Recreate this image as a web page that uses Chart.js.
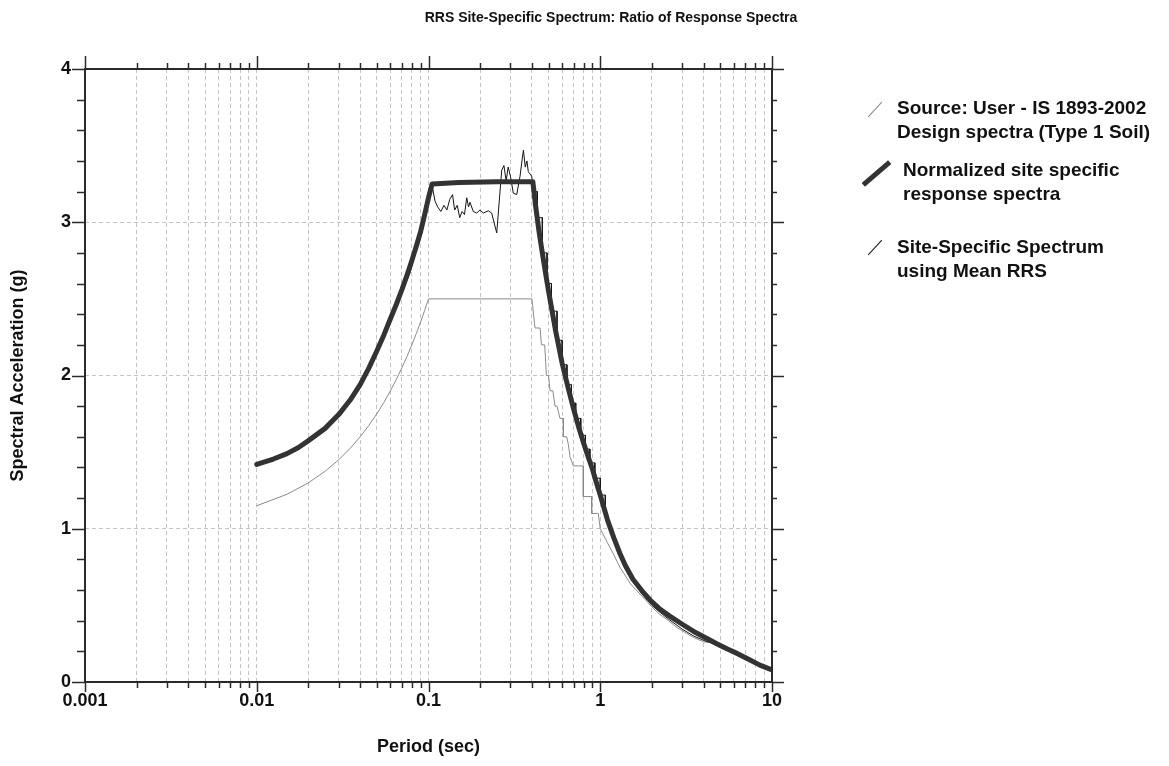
<!DOCTYPE html>
<html>
<head>
<meta charset="utf-8">
<title>RRS Site-Specific Spectrum</title>
<script src="https://cdn.jsdelivr.net/npm/chart.js@4.4.1/dist/chart.umd.min.js"></script>
<style>
  body { margin: 0; background: #fff; }
  #wrap { position: relative; width: 1169px; height: 766px; font-family: "Liberation Sans", Arial, sans-serif; color: #111; }
  #chartTitle { position: absolute; top: 9px; left: 611px; transform: translateX(-50%); font-weight: bold; font-size: 14px; white-space: nowrap; }
  .leg { position: absolute; font-weight: bold; font-size: 19px; line-height: 24px; white-space: nowrap; }
  .sym { position: absolute; }
</style>
</head>
<body>
<div id="wrap">
  <canvas id="rrsChart" width="1169" height="766"></canvas>
  <div id="chartTitle">RRS Site-Specific Spectrum: Ratio of Response Spectra</div>
</div>
<script>
// Design spectrum (IS 1893-2002, type 1 soil) - period (sec) / Sa (g)
var designT  = [0.01, 0.015, 0.02, 0.025, 0.03, 0.035, 0.04, 0.045, 0.05, 0.055, 0.06, 0.065, 0.07, 0.075, 0.08, 0.085, 0.09, 0.095, 0.10, 0.40, 0.417, 0.446, 0.455, 0.475, 0.486, 0.50, 0.51, 0.53, 0.545, 0.56, 0.583, 0.61, 0.61, 0.638, 0.652, 0.667, 0.697, 0.797, 0.797, 0.891, 0.891, 0.974, 1.0, 1.1, 1.2, 1.3, 1.5, 1.75, 2.0, 2.2, 2.5, 2.8, 3.0, 3.5, 4.0, 4.3, 5.0, 6.0, 7.45, 8.5, 10];
var designSa = [1.15, 1.225, 1.30, 1.375, 1.45, 1.525, 1.60, 1.675, 1.75, 1.825, 1.90, 1.975, 2.05, 2.125, 2.20, 2.275, 2.35, 2.425, 2.50, 2.50, 2.31, 2.31, 2.20, 2.20, 2.00, 2.00, 1.90, 1.90, 1.80, 1.80, 1.72, 1.72, 1.60, 1.60, 1.55, 1.47, 1.41, 1.41, 1.21, 1.21, 1.10, 1.10, 1.00, 0.91, 0.83, 0.75, 0.64, 0.56, 0.49, 0.445, 0.40, 0.355, 0.335, 0.29, 0.262, 0.26, 0.225, 0.188, 0.144, 0.11, 0.078];

// Site-specific spectrum using mean RRS
var rrsT  = [0.01, 0.015, 0.02, 0.025, 0.03, 0.035, 0.04, 0.045, 0.05, 0.055, 0.06, 0.065, 0.07, 0.078, 0.085, 0.09, 0.095, 0.10, 0.105, 0.109, 0.113, 0.118, 0.123, 0.128, 0.133, 0.138, 0.142, 0.147, 0.152, 0.157, 0.162, 0.167, 0.171, 0.1744, 0.1823, 0.1909, 0.1995, 0.2085, 0.2229, 0.2333, 0.2496, 0.2669, 0.275, 0.283, 0.291, 0.300, 0.3117, 0.3263, 0.3411, 0.350, 0.357, 0.366, 0.374, 0.3812, 0.399, 0.41, 0.43, 0.43, 0.46, 0.46, 0.49, 0.49, 0.52, 0.52, 0.56, 0.56, 0.60, 0.60, 0.64, 0.64, 0.68, 0.68, 0.72, 0.72, 0.77, 0.77, 0.82, 0.82, 0.87, 0.87, 0.93, 0.93, 1.0, 1.0, 1.07, 1.07, 1.15, 1.3, 1.4, 1.55, 1.75, 2.0, 2.2, 2.5, 3.0, 3.5, 4.17, 4.77, 5.5, 6.3, 7.45, 8.5, 10];
var rrsSa = [1.41, 1.48, 1.565, 1.645, 1.735, 1.83, 1.93, 2.04, 2.15, 2.25, 2.35, 2.45, 2.54, 2.67, 2.82, 2.93, 3.03, 3.15, 3.24, 3.14, 3.10, 3.07, 3.11, 3.08, 3.15, 3.18, 3.08, 3.11, 3.03, 3.07, 3.05, 3.16, 3.10, 3.13, 3.07, 3.06, 3.08, 3.06, 3.075, 3.06, 2.93, 3.34, 3.37, 3.27, 3.36, 3.30, 3.19, 3.18, 3.30, 3.40, 3.47, 3.36, 3.40, 3.33, 3.30, 3.20, 3.20, 3.03, 3.03, 2.80, 2.80, 2.60, 2.60, 2.42, 2.42, 2.23, 2.23, 2.07, 2.07, 1.94, 1.94, 1.82, 1.82, 1.72, 1.72, 1.61, 1.61, 1.52, 1.52, 1.43, 1.43, 1.33, 1.33, 1.22, 1.22, 1.10, 1.00, 0.82, 0.74, 0.655, 0.575, 0.50, 0.46, 0.41, 0.345, 0.30, 0.263, 0.25, 0.215, 0.185, 0.144, 0.11, 0.078];

// Normalized site specific response spectra
var normT  = [0.01, 0.0125, 0.015, 0.0175, 0.02, 0.025, 0.03, 0.035, 0.04, 0.045, 0.05, 0.055, 0.06, 0.065, 0.07, 0.075, 0.08, 0.085, 0.09, 0.095, 0.10, 0.105, 0.15, 0.25, 0.405, 0.42, 0.44, 0.46, 0.48, 0.5, 0.55, 0.6, 0.65, 0.7, 0.75, 0.8, 0.85, 0.9, 0.95, 1.0, 1.1, 1.2, 1.3, 1.4, 1.55, 1.75, 1.95, 2.2, 2.5, 3.05, 3.5, 4.0, 4.77, 5.5, 6.3, 7.45, 8.5, 10];
var normSa = [1.42, 1.455, 1.49, 1.53, 1.575, 1.655, 1.745, 1.84, 1.94, 2.05, 2.16, 2.265, 2.37, 2.465, 2.56, 2.655, 2.75, 2.845, 2.94, 3.05, 3.16, 3.25, 3.26, 3.265, 3.265, 3.11, 2.94, 2.80, 2.67, 2.55, 2.29, 2.08, 1.92, 1.78, 1.66, 1.56, 1.47, 1.39, 1.30, 1.22, 1.06, 0.94, 0.84, 0.76, 0.67, 0.595, 0.535, 0.48, 0.435, 0.372, 0.33, 0.295, 0.25, 0.215, 0.185, 0.144, 0.11, 0.078];

var xDecades = [0.001, 0.01, 0.1, 1, 10];
var xTickLabels = ['0.001', '0.01', '0.1', '1', '10'];
var yMin = 0, yMax = 4;

var legendLines = [
    ['Source: User - IS 1893-2002', 'Design spectra (Type 1 Soil)'],
    ['Normalized site specific', 'response spectra'],
    ['Site-Specific Spectrum', 'using Mean RRS']
];

function toPoints(xs, ys) {
    var pts = [];
    for (var i = 0; i < xs.length; i++) {
        pts.push({x: xs[i], y: ys[i]});
    }
    return pts;
}

function isDecade(v) {
    for (var i = 0; i < xDecades.length; i++) {
        if (Math.abs(v / xDecades[i] - 1) < 1e-6) return i;
    }
    return -1;
}

// 1..9 in each decade, like the original plot
var xTicks = [];
for (var d = 0; d < xDecades.length - 1; d++) {
    for (var k = 1; k < 10; k++) {
        xTicks.push(+(k * xDecades[d]).toPrecision(6));
    }
}
xTicks.push(xDecades[xDecades.length - 1]);

var yTicks = [];
for (var j = yMin * 5; j <= yMax * 5; j++) {
    yTicks.push(j / 5);
}

var gridGrey = '#c4c4c4';

// box around the plot + tick marks on all four sides
var frameTicks = {
    id: 'frameTicks',
    afterDraw: function (chart) {
        var ctx = chart.ctx;
        var a = chart.chartArea;
        var x = chart.scales.x, y = chart.scales.y;
        ctx.save();
        ctx.strokeStyle = '#2a2a2a';
        ctx.lineWidth = 1.5;
        ctx.beginPath();
        x.ticks.forEach(function (t) {
            var px = Math.round(x.getPixelForValue(t.value)) + 0.5;
            var major = isDecade(t.value) >= 0;
            ctx.moveTo(px, a.bottom);
            ctx.lineTo(px, a.bottom + (major ? 10 : 6));
            ctx.moveTo(px, a.top);
            ctx.lineTo(px, a.top - (major ? 13 : 6));
        });
        y.ticks.forEach(function (t) {
            var py = Math.round(y.getPixelForValue(t.value)) + 0.5;
            var major = Number.isInteger(t.value);
            ctx.moveTo(a.left, py);
            ctx.lineTo(a.left - (major ? 13 : 8), py);
            ctx.moveTo(a.right, py);
            ctx.lineTo(a.right + (major ? 12 : 5), py);
        });
        ctx.stroke();
        ctx.lineWidth = 2;
        ctx.strokeRect(a.left, a.top, a.right - a.left, a.bottom - a.top);
        ctx.restore();
    }
};

var chartdata = {
    datasets: [
        {
            label: legendLines[1].join(' '),
            data: toPoints(normT, normSa),
            borderColor: '#333333',
            borderWidth: 5,
            order: 0
        },
        {
            label: legendLines[2].join(' '),
            data: toPoints(rrsT, rrsSa),
            borderColor: '#151515',
            borderWidth: 1,
            order: 1
        },
        {
            label: legendLines[0].join(' '),
            data: toPoints(designT, designSa),
            borderColor: '#8a8a8a',
            borderWidth: 1,
            order: 2
        }
    ]
};

var tickFont = {family: '"Liberation Sans", Arial, sans-serif', size: 18, weight: 'bold'};

var rrsChart = new Chart(document.getElementById('rrsChart'), {
    type: 'line',
    data: chartdata,
    options: {
        responsive: false,
        animation: false,
        devicePixelRatio: 1,
        layout: { padding: { left: 0, top: 69, right: 397, bottom: 0 } },
        elements: {
            point: { radius: 0 },
            line: { tension: 0, fill: false, borderJoinStyle: 'round', borderCapStyle: 'round' }
        },
        plugins: {
            legend: { display: false },
            title: { display: false },
            tooltip: { enabled: false }
        },
        scales: {
            x: {
                type: 'logarithmic',
                min: xDecades[0],
                max: xDecades[xDecades.length - 1],
                afterBuildTicks: function (scale) {
                    scale.ticks = xTicks.map(function (v) { return {value: v}; });
                },
                afterFit: function (scale) { scale.height = 84; },
                grid: { color: gridGrey, lineWidth: 1, tickLength: 6, tickColor: 'rgba(0,0,0,0)' },
                border: { display: false, dash: [4, 3] },
                ticks: {
                    autoSkip: false,
                    maxRotation: 0,
                    padding: 2,
                    color: '#111',
                    font: tickFont,
                    callback: function (value) {
                        var i = isDecade(value);
                        return i >= 0 ? xTickLabels[i] : '';
                    }
                },
                title: {
                    display: true,
                    text: 'Period (sec)',
                    color: '#111',
                    font: tickFont,
                    padding: { top: 4, bottom: 8 }
                }
            },
            y: {
                min: yMin,
                max: yMax,
                afterBuildTicks: function (scale) {
                    scale.ticks = yTicks.map(function (v) { return {value: v}; });
                },
                afterFit: function (scale) { scale.width = 85; },
                grid: {
                    color: function (c) {
                        return Number.isInteger(c.tick.value) ? gridGrey : 'rgba(0,0,0,0)';
                    },
                    lineWidth: 1,
                    tickLength: 10,
                    tickColor: 'rgba(0,0,0,0)'
                },
                border: { display: false, dash: [4, 3] },
                ticks: {
                    autoSkip: false,
                    padding: 4,
                    color: '#111',
                    font: tickFont,
                    callback: function (value) {
                        return Number.isInteger(value) ? String(value) : '';
                    }
                },
                title: {
                    display: true,
                    text: 'Spectral Acceleration (g)',
                    color: '#111',
                    font: tickFont,
                    padding: { top: 7, bottom: 4 }
                }
            }
        }
    },
    plugins: [frameTicks]
});

// legend on the right, drawn as html (two-line labels, slanted line symbols)
var legendSpots = [
    {ds: 2, top: 96, left: 897, cx: 875, cy: 109.5, len: 20, ang: -47},
    {ds: 0, top: 158, left: 903, cx: 876, cy: 173.5, len: 35, ang: -41},
    {ds: 1, top: 235, left: 897, cx: 875, cy: 247.5, len: 20, ang: -47}
];
var wrap = document.getElementById('wrap');
legendSpots.forEach(function (s, n) {
    var ds = chartdata.datasets[s.ds];
    var sym = document.createElement('div');
    sym.className = 'sym';
    sym.style.width = s.len + 'px';
    sym.style.height = ds.borderWidth + 'px';
    sym.style.left = (s.cx - s.len / 2) + 'px';
    sym.style.top = (s.cy - ds.borderWidth / 2) + 'px';
    sym.style.background = ds.borderColor;
    sym.style.transform = 'rotate(' + s.ang + 'deg)';
    wrap.appendChild(sym);

    var txt = document.createElement('div');
    txt.className = 'leg';
    txt.style.left = s.left + 'px';
    txt.style.top = s.top + 'px';
    txt.innerHTML = legendLines[n].join('<br>');
    wrap.appendChild(txt);
});
</script>
</body>
</html>
